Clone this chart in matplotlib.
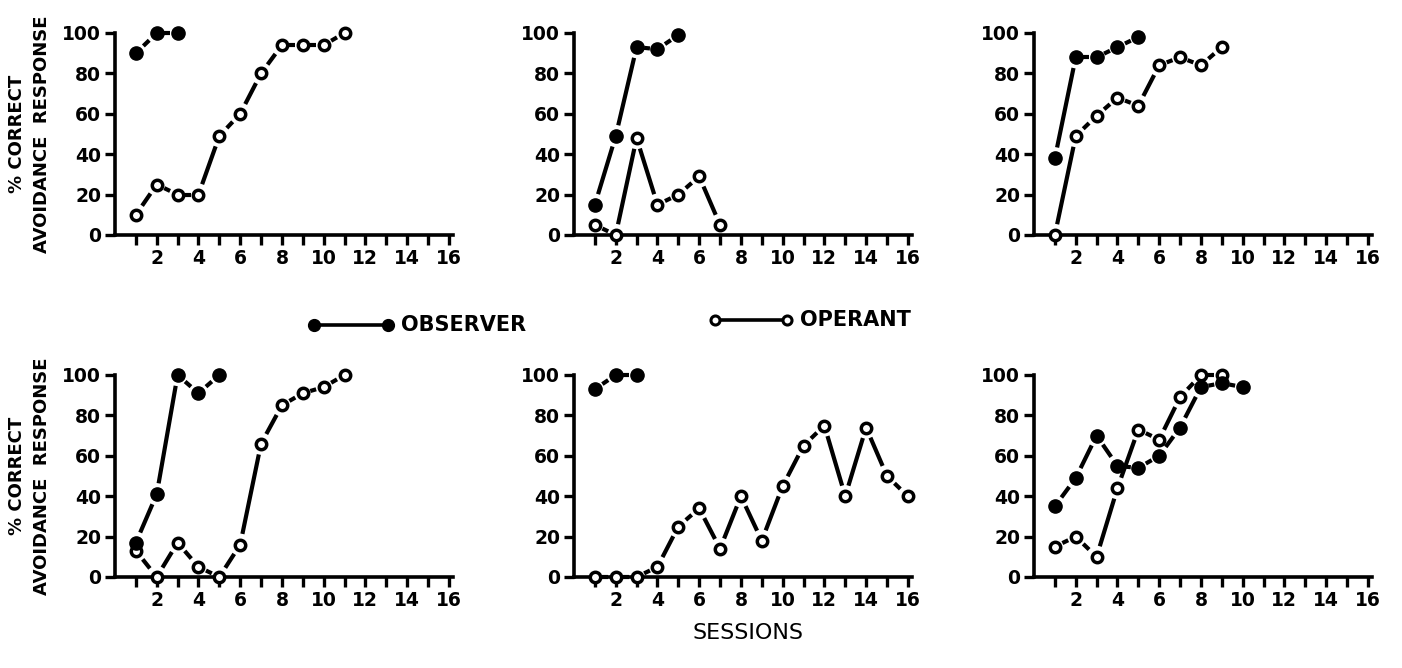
import matplotlib
matplotlib.use('Agg')
import matplotlib.pyplot as plt
from matplotlib.lines import Line2D
from matplotlib import font_manager
import numpy as np

# data, one list per series
obs_1 = [90, 100, 100]
opr_1 = [10, 25, 20, 20, 49, 60, 80, 94, 94, 94, 100]
obs_2 = [15, 49, 93, 92, 99]
opr_2 = [5, 0, 48, 15, 20, 29, 5]
obs_3 = [38, 88, 88, 93, 98]
opr_3 = [0, 49, 59, 68, 64, 84, 88, 84, 93]
obs_4 = [17, 41, 100, 91, 100]
opr_4 = [13, 0, 17, 5, 0, 16, 66, 85, 91, 94, 100]
obs_5 = [93, 100, 100]
opr_5 = [0, 0, 0, 5, 25, 34, 14, 40, 18, 45, 65, 75, 40, 74, 50, 40]
obs_6 = [35, 49, 70, 55, 54, 60, 74, 94, 96, 94]
opr_6 = [15, 20, 10, 44, 73, 68, 89, 100, 100]

panels = [(obs_1, opr_1), (obs_2, opr_2), (obs_3, opr_3),
          (obs_4, opr_4), (obs_5, opr_5), (obs_6, opr_6)]
y_ticks = [0, 20, 40, 60, 80, 100]
x_ticks = list(range(1, 17))

try:
    font_manager.findfont('Liberation Sans Narrow', fallback_to_default=False)
    narrow = 'Liberation Sans Narrow'
except Exception:
    narrow = 'DejaVu Sans'

W, H = 1402, 668
fig = plt.figure(figsize=(W / 100, H / 100), dpi=100)

# pixel boxes: left, top of axes
lefts = [115, 574, 1034]
tops = [33, 375]
aw, ah = 338, 202


def draw(ax, y, filled, gap=11):
    x = np.arange(1, len(y) + 1)
    # line pieces stop short of each point, like the hand-inked original
    pts = ax.transData.transform(np.column_stack([x, y]))
    inv = ax.transData.inverted()
    for p, q in zip(pts[:-1], pts[1:]):
        d = q - p
        n = np.hypot(*d)
        g = min(gap, 0.36 * n)
        u = d / n
        seg = inv.transform([p + u * g, q - u * g])
        ax.plot(seg[:, 0], seg[:, 1], color='black', lw=3, zorder=2,
                clip_on=False, solid_capstyle='butt')
    if filled:
        ax.plot(x, y, 'o', ms=9.5, mfc='black', mec='black', zorder=4, clip_on=False)
    else:
        ax.plot(x, y, 'o', ms=7.5, mfc='white', mec='black', mew=2.5, zorder=4, clip_on=False)


for i, (obs, opr) in enumerate(panels):
    r, c = divmod(i, 3)
    l = lefts[c]
    t = tops[r]
    ax = fig.add_axes([l / W, (H - t - ah) / H, aw / W, ah / H])
    ax.set_xlim(0, 16.2)
    ax.set_ylim(0, 100)
    draw(ax, opr, False)
    draw(ax, obs, True)
    for s in ['top', 'right']:
        ax.spines[s].set_visible(False)
    for s in ['left', 'bottom']:
        ax.spines[s].set_linewidth(2.6)
    ax.set_yticks(y_ticks)
    ax.set_yticklabels([str(v) for v in y_ticks], fontsize=13.5, fontweight='bold')
    ax.set_xticks(x_ticks)
    ax.set_xticklabels([str(v) if v % 2 == 0 else '' for v in x_ticks],
                       fontsize=13.5, fontweight='bold')
    ax.tick_params(axis='both', direction='out', length=7, width=2.4, pad=3)
    if c == 0:
        ax.set_ylabel('% CORRECT\nAVOIDANCE  RESPONSE', fontsize=13,
                      fontweight='bold', family=narrow, labelpad=8,
                      linespacing=1.5)


# legend drawn in figure pixel coords
def legend_item(x0, x1, yy, label, filled):
    fig.add_artist(Line2D([x0 / W, x1 / W], [1 - yy / H, 1 - yy / H],
                          color='black', lw=2.6))
    for xx in (x0, x1):
        if filled:
            fig.add_artist(Line2D([xx / W], [1 - yy / H], marker='o', ms=8.5,
                                  mfc='black', mec='black', ls='none'))
        else:
            fig.add_artist(Line2D([xx / W], [1 - yy / H], marker='o', ms=6.5,
                                  mfc='white', mec='black', mew=2.2, ls='none'))
    fig.text((x1 + 13) / W, 1 - yy / H, label, fontsize=15, fontweight='bold',
             family=narrow, va='center', ha='left')


legend_item(314, 388, 325, 'OBSERVER', True)
legend_item(715, 787, 320, 'OPERANT', False)

fig.text(748 / W, 1 - 633 / H, 'SESSIONS', fontsize=16, ha='center',
         va='center', family='DejaVu Sans')

fig.savefig('out.png', dpi=100, facecolor='white')
